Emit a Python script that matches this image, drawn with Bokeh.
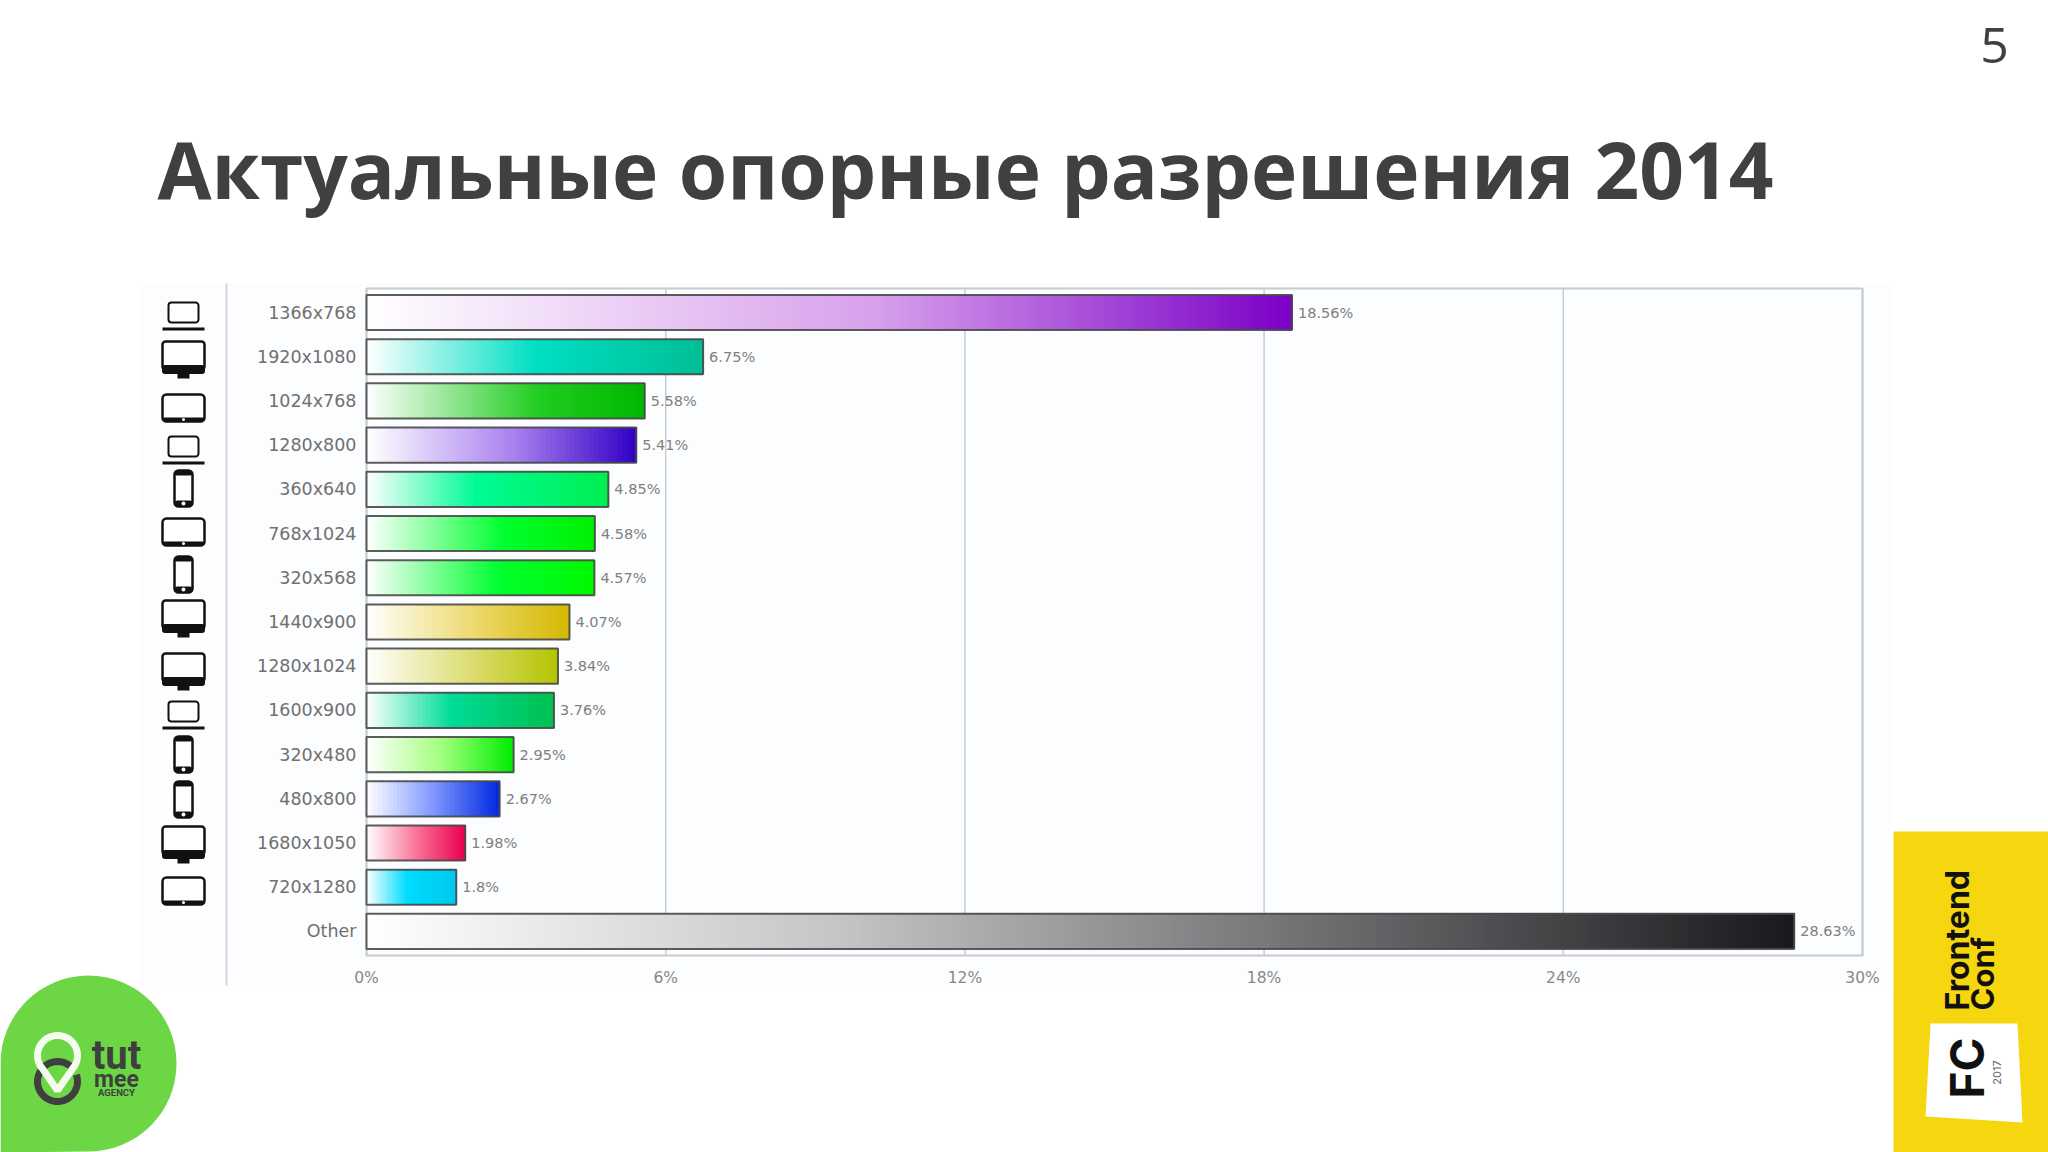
import math
from bokeh.core.properties import value
from bokeh.embed import file_html
from bokeh.resources import INLINE
from bokeh.plotting import figure
from bokeh.models import ColumnDataSource, FixedTicker, LinearAxis, Range1d

# ---------- data ----------
categories = ["1366x768", "1920x1080", "1024x768", "1280x800", "360x640", "768x1024", "320x568",
              "1440x900", "1280x1024", "1600x900", "320x480", "480x800", "1680x1050", "720x1280", "Other"]
values = [18.56, 6.75, 5.58, 5.41, 4.85, 4.58, 4.57, 4.07, 3.84, 3.76, 2.95, 2.67, 1.98, 1.8, 28.63]
value_labels = ["18.56%", "6.75%", "5.58%", "5.41%", "4.85%", "4.58%", "4.57%", "4.07%", "3.84%",
                "3.76%", "2.95%", "2.67%", "1.98%", "1.8%", "28.63%"]
x_ticks = [0, 6, 12, 18, 24, 30]
x_tick_labels = ["0%", "6%", "12%", "18%", "24%", "30%"]
device_types = ["laptop", "desktop", "tablet", "laptop", "phone", "tablet", "phone", "desktop",
                "desktop", "laptop", "phone", "phone", "desktop", "tablet"]
mid_colors = ["#d8a0ec", "#00dfc4", "#20cc20", "#a880ee", "#00fb96", "#00ff30", "#00ff30", "#ecd868",
              "#dcdc70", "#00dc98", "#a4ff80", "#8098ff", "#f86890", "#00ddff", "#c6c4c6"]
end_colors = ["#7a00c6", "#00bf95", "#00b800", "#3000c4", "#00ee50", "#00f000", "#00f800", "#d4b800",
              "#b4c400", "#00c050", "#00ee00", "#0028e0", "#e80050", "#00c8ee", "#1a181c"]
mid_stops = [0.55, 0.5, 0.62, 0.55, 0.45, 0.6, 0.58, 0.55, 0.55, 0.45, 0.5, 0.5, 0.55, 0.45, 0.33]

W, H = 2048, 1152
FRAME_L, FRAME_R, FRAME_T, FRAME_B = 366, 1862, 288, 955
ROW0, ROW_GAP = 312, 44.21      # pixel centre of first row, pixels between rows
TEXT = "#404040"
GRID = "#c6ccd0"

# The frame covers the page in pixels; the chart has its own scales on top of that.
p = figure(width=W, height=H, output_backend="svg", toolbar_location=None,
           x_range=Range1d(0, W), y_range=Range1d(H, 0),
           x_axis_location=None, y_axis_location=None, min_border=0)
p.border_fill_color = "white"
p.background_fill_color = "white"
p.outline_line_color = None
p.grid.visible = False

pct_per_px = (x_ticks[-1] - x_ticks[0]) / (FRAME_R - FRAME_L)
p.extra_x_ranges["pct"] = Range1d(-FRAME_L * pct_per_px, (W - FRAME_L) * pct_per_px)
p.extra_y_ranges["rank"] = Range1d((H - ROW0) / ROW_GAP, -ROW0 / ROW_GAP)

ranks = list(range(len(categories)))


def quad(l, t, r, b, fill, line=None, lw=0, radius=0):
    p.quad(left=l, right=r, top=t, bottom=b, fill_color=fill, line_color=line,
           line_width=lw, border_radius=radius)


def poly(xs, ys, fill=None, line=None, lw=0):
    p.patch(x=list(xs), y=list(ys), fill_color=fill, line_color=line, line_width=lw,
            fill_alpha=1 if fill else 0)


def text(x, y, s, size, color=TEXT, font="Open Sans", style="normal", align="left", angle=0.0):
    p.text(x=[x], y=[y], text=[s], text_font=value(font), text_font_size=f"{size}px",
           text_font_style=style, text_color=color, text_align=align, text_baseline="middle",
           angle=angle, angle_units="deg")


def ring(cx, cy, r, a0=0, a1=360, n=48):
    pts = [(cx + r * math.cos(math.radians(a0 + (a1 - a0) * i / n)),
            cy + r * math.sin(math.radians(a0 + (a1 - a0) * i / n))) for i in range(n + 1)]
    return [q[0] for q in pts], [q[1] for q in pts]


# chart backdrop, rule beside the icons, frame interior
quad(140, 283, 1890, 985, "#fcfdfe")
quad(225, 283, 227, 985, "#d4d8dc")

# frame and grid lines (behind the bars)
p.segment(x0="x", x1="x", y0=FRAME_T, y1=FRAME_B, x_range_name="pct", line_color=GRID,
          line_width=1.5, source=ColumnDataSource(dict(x=x_ticks)))
quad(FRAME_L, FRAME_T, FRAME_R, FRAME_B, None, GRID, 2)


def hex_rgb(c):
    return [int(c[i:i + 2], 16) for i in (1, 3, 5)]


def mix(a, b, t):
    return "#%02x%02x%02x" % tuple(round(x + (y - x) * t) for x, y in zip(a, b))


# ---------- gradient bars: overlapping slices so no seams appear ----------
seg_y, seg_left, seg_right, seg_color = [], [], [], []
white = [255, 255, 255]
for rk, val, mc, ec, st in zip(ranks, values, mid_colors, end_colors, mid_stops):
    m, e = hex_rgb(mc), hex_rgb(ec)
    steps = int(14 + val * 8)
    for i in range(steps):
        t = (i + 0.5) / steps
        col = mix(white, m, t / st) if t < st else mix(m, e, (t - st) / (1 - st))
        seg_y.append(rk)
        seg_left.append(val * i / steps)
        seg_right.append(val)
        seg_color.append(col)
p.hbar(y="y", left="l", right="r", height=0.795, fill_color="c", line_color=None,
       x_range_name="pct", y_range_name="rank",
       source=ColumnDataSource(dict(y=seg_y, l=seg_left, r=seg_right, c=seg_color)))

bars = ColumnDataSource(dict(y=ranks, v=values, t=value_labels))
p.hbar(y="y", left=0, right="v", height=0.795, fill_color=None, line_color="#4a4a4a",
       line_width=2, line_alpha=0.9, source=bars, x_range_name="pct", y_range_name="rank")
p.text(x="v", y="y", text="t", source=bars, x_offset=6, text_baseline="middle", text_align="left",
       text_font=value("DejaVu Sans"), text_font_size="14.5px", text_color="#808080",
       x_range_name="pct", y_range_name="rank")

# ---------- axes, pinned to the frame edges ----------
xax = LinearAxis(x_range_name="pct", fixed_location=FRAME_B, ticker=FixedTicker(ticks=x_ticks),
                 major_label_overrides=dict(zip(x_ticks, x_tick_labels)))
xax.major_label_text_font = "DejaVu Sans"
xax.major_label_text_font_size = "15.5px"
xax.major_label_text_color = "#888888"
xax.major_label_standoff = 7
yax = LinearAxis(y_range_name="rank", fixed_location=FRAME_L, ticker=FixedTicker(ticks=ranks),
                 major_label_overrides=dict(zip(ranks, categories)))
yax.major_label_text_font = "DejaVu Sans"
yax.major_label_text_font_size = "17.5px"
yax.major_label_text_color = "#707070"
yax.major_label_standoff = 4
for ax in (xax, yax):
    ax.axis_line_color = None
    ax.major_tick_line_color = None
    ax.minor_tick_line_color = None
p.add_layout(xax, "below")
p.add_layout(yax, "left")

# title and page number
text(157, 168, "Актуальные опорные разрешения 2014", 78.3, style="bold")
text(1994, 45, "5", 50, align="center")

# device icons
ICON_X = 183
ICON_Y = [313, 358, 407, 447, 488, 531, 574, 617, 670, 712, 754, 799, 843, 890]
INK = "#111111"


def dot(y, r=2):
    quad(ICON_X - r, y - r, ICON_X + r, y + r, "#ffffff", None, 0, math.ceil(r))


def laptop(y):
    quad(ICON_X - 15, y - 11, ICON_X + 15, y + 9, "#ffffff", INK, 2, 3)
    quad(ICON_X - 21, y + 14, ICON_X + 21, y + 17, INK)


def desktop(y):
    quad(ICON_X - 21, y - 17, ICON_X + 21, y + 11, "#ffffff", INK, 2.5, 3)
    quad(ICON_X - 21, y + 7, ICON_X + 21, y + 15, INK, INK, 1, 2)
    quad(ICON_X - 6, y + 15, ICON_X + 6, y + 20, INK)


def tablet(y):
    quad(ICON_X - 21, y - 13, ICON_X + 21, y + 14, "#ffffff", INK, 2.5, 4)
    quad(ICON_X - 21, y + 10, ICON_X + 21, y + 14, INK, None, 0, 3)
    dot(y + 12, 1.5)


def phone(y):
    quad(ICON_X - 9, y - 18, ICON_X + 9, y + 18, "#ffffff", INK, 2.5, 4)
    quad(ICON_X - 9, y - 18, ICON_X + 9, y - 13, INK, None, 0, 3)
    quad(ICON_X - 9, y + 12, ICON_X + 9, y + 18, INK, None, 0, 3)
    dot(y + 15)


draw = {"laptop": laptop, "desktop": desktop, "tablet": tablet, "phone": phone}
for kind, y in zip(device_types, ICON_Y):
    draw[kind](y)

# green tutmee badge
GREEN = "#6dd645"
xs, ys = ring(88, 1063, 88, 180, 450)
poly(xs + [0], ys + [1152], fill=GREEN)
xs, ys = ring(57, 1081, 20, -20, 320)
p.line(x=xs, y=ys, line_color="#3f3f3f", line_width=7)
xs, ys = ring(57, 1055, 20, 140, 400)
poly(xs + [57], ys + [1090], line="#f4fbef", lw=7)
text(116, 1055, "tut", 40, "#3f3f3f", "Roboto", "bold", "center")
text(116, 1079, "mee", 23, "#3f3f3f", "Roboto", "bold", "center")
text(116, 1092, "AGENCY", 9.5, "#3f3f3f", "Roboto", "bold", "center")

# yellow conference panel
quad(1893, 831, 2048, 1152, "#f5d60f")
poly([1930, 2017, 2022, 1925], [1023, 1023, 1122, 1116], fill="#ffffff")
text(1957, 1010, "Frontend", 32, "#111111", "Inter", "bold", "left", 90)
text(1982, 1010, "Conf", 31, "#111111", "Inter", "bold", "left", 90)
text(1966, 1098, "FC", 46, "#111111", "Inter", "bold", "left", 90)
text(1996, 1072, "2017", 11, "#666666", "Inter", "normal", "center", 90)

open("out.html", "w").write(file_html(p, INLINE))
